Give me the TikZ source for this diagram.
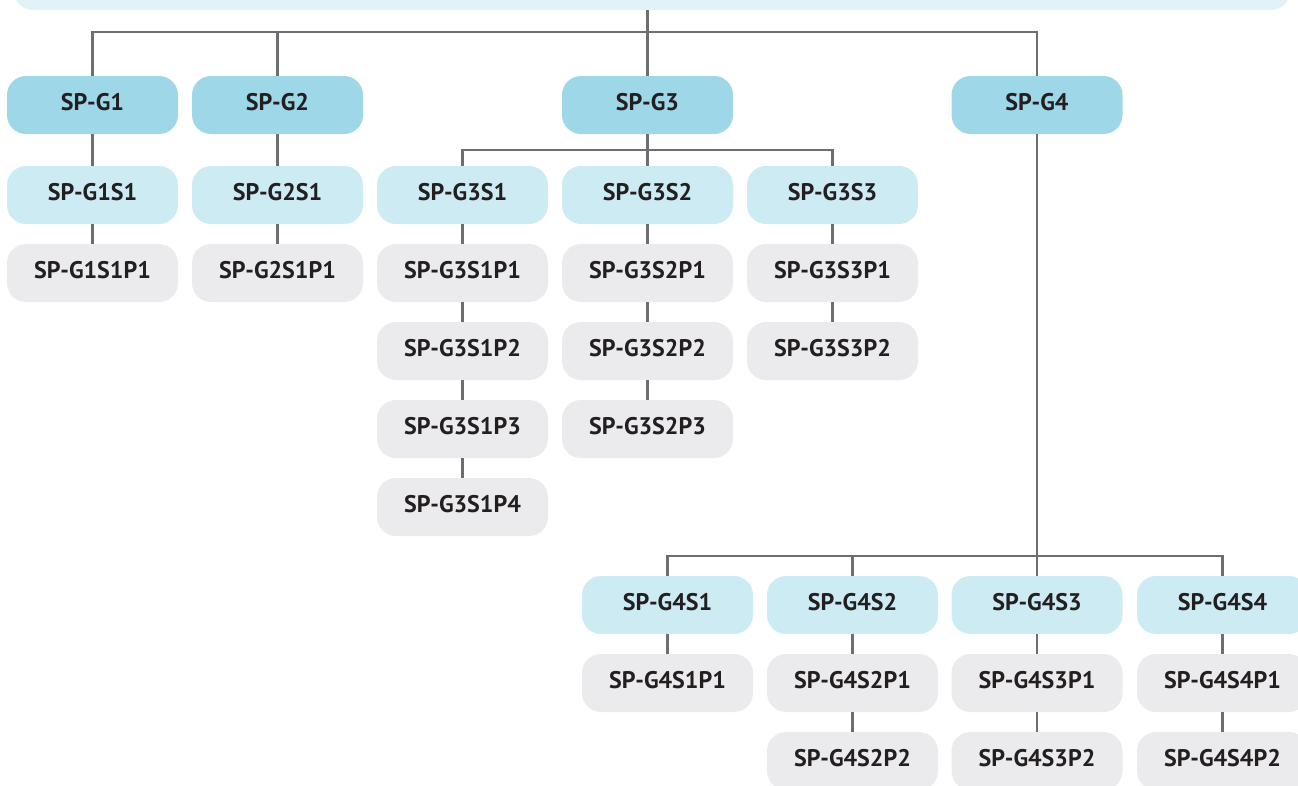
\documentclass[tikz,border=0pt]{standalone}
\usepackage{fontspec}
\setmainfont{PT Sans}
\definecolor{barblue}{HTML}{E1F3F6}
\definecolor{grpblue}{HTML}{9ED7E7}
\definecolor{subblue}{HTML}{CDEBF3}
\definecolor{prjgray}{HTML}{EBEBED}
\definecolor{linegray}{HTML}{6D6E71}
\definecolor{txt}{HTML}{231F20}
\begin{document}
\begin{tikzpicture}[x=1pt,y=-1pt]
\tikzset{ inner sep=0pt, outer sep=0pt,
  box/.style={rounded corners=19pt, minimum width=171pt, minimum height=58pt,
    text height=17pt, text depth=6pt,
    font=\fontsize{24}{24}\selectfont\bfseries, text=txt},
  grp/.style={box, fill=grpblue},
  sub/.style={box, fill=subblue},
  prj/.style={box, fill=prjgray},
  link/.style={draw=linegray, line width=2.4pt},
}
\useasboundingbox (0,0) rectangle (1298,785);
\clip (0,0) rectangle (1298,785);
%\draw [lightgray, dashed](0,0) grid [step=50] (1298,785);

% top bar
\fill [barblue, rounded corners=19pt] (14,-40) rectangle (1290,10);
\coordinate (R) at (647.5,10);
\coordinate (T) at (647.5,32);
\coordinate (T3) at (647.5,150);
\coordinate (T4) at (1037,556);

% groups
\node [grp] (G1) at (92.5,105) {SP-G1};
\node [grp] (G2) at (277.5,105) {SP-G2};
\node [grp] (G3) at (647.5,105) {SP-G3};
\node [grp] (G4) at (1037,105) {SP-G4};

% G1, G2
\node [sub] (G1S1) at (92.5,195) {SP-G1S1};
\node [prj] (G1S1P1) at (92.5,273) {SP-G1S1P1};
\node [sub] (G2S1) at (277.5,195) {SP-G2S1};
\node [prj] (G2S1P1) at (277.5,273) {SP-G2S1P1};

% G3
\node [sub] (G3S1) at (462.5,195) {SP-G3S1};
\node [sub] (G3S2) at (647.5,195) {SP-G3S2};
\node [sub] (G3S3) at (832.5,195) {SP-G3S3};
\node [prj] (G3S1P1) at (462.5,273) {SP-G3S1P1};
\node [prj] (G3S1P2) at (462.5,351) {SP-G3S1P2};
\node [prj] (G3S1P3) at (462.5,429) {SP-G3S1P3};
\node [prj] (G3S1P4) at (462.5,507) {SP-G3S1P4};
\node [prj] (G3S2P1) at (647.5,273) {SP-G3S2P1};
\node [prj] (G3S2P2) at (647.5,351) {SP-G3S2P2};
\node [prj] (G3S2P3) at (647.5,429) {SP-G3S2P3};
\node [prj] (G3S3P1) at (832.5,273) {SP-G3S3P1};
\node [prj] (G3S3P2) at (832.5,351) {SP-G3S3P2};

% G4
\node [sub] (G4S1) at (667.5,605) {SP-G4S1};
\node [sub] (G4S2) at (852.5,605) {SP-G4S2};
\node [sub] (G4S3) at (1037,605) {SP-G4S3};
\node [sub] (G4S4) at (1222.5,605) {SP-G4S4};
\node [prj] (G4S1P1) at (667.5,683) {SP-G4S1P1};
\node [prj] (G4S2P1) at (852.5,683) {SP-G4S2P1};
\node [prj] (G4S2P2) at (852.5,761) {SP-G4S2P2};
\node [prj] (G4S3P1) at (1037,683) {SP-G4S3P1};
\node [prj] (G4S3P2) at (1037,761) {SP-G4S3P2};
\node [prj] (G4S4P1) at (1222.5,683) {SP-G4S4P1};
\node [prj] (G4S4P2) at (1222.5,761) {SP-G4S4P2};

% buses
\foreach \n in {G1,G2,G3,G4}
  \draw [link] (R) -- (T) -| (\n.north);
\foreach \n in {G3S1,G3S2,G3S3}
  \draw [link] (G3.south) -- (T3) -| (\n.north);
\foreach \n in {G4S1,G4S2,G4S3,G4S4}
  \draw [link] (G4.south) -- (T4) -| (\n.north);

% chains
\draw [link] (G1) -- (G1S1);
\draw [link] (G1S1) -- (G1S1P1);
\draw [link] (G2) -- (G2S1);
\draw [link] (G2S1) -- (G2S1P1);
\draw [link] (G3S1) -- (G3S1P1);
\draw [link] (G3S1P1) -- (G3S1P2);
\draw [link] (G3S1P2) -- (G3S1P3);
\draw [link] (G3S1P3) -- (G3S1P4);
\draw [link] (G3S2) -- (G3S2P1);
\draw [link] (G3S2P1) -- (G3S2P2);
\draw [link] (G3S2P2) -- (G3S2P3);
\draw [link] (G3S3) -- (G3S3P1);
\draw [link] (G3S3P1) -- (G3S3P2);
\draw [link] (G4S1) -- (G4S1P1);
\draw [link] (G4S2) -- (G4S2P1);
\draw [link] (G4S2P1) -- (G4S2P2);
\draw [link] (G4S3) -- (G4S3P1);
\draw [link] (G4S3P1) -- (G4S3P2);
\draw [link] (G4S4) -- (G4S4P1);
\draw [link] (G4S4P1) -- (G4S4P2);

\end{tikzpicture}
\end{document}
